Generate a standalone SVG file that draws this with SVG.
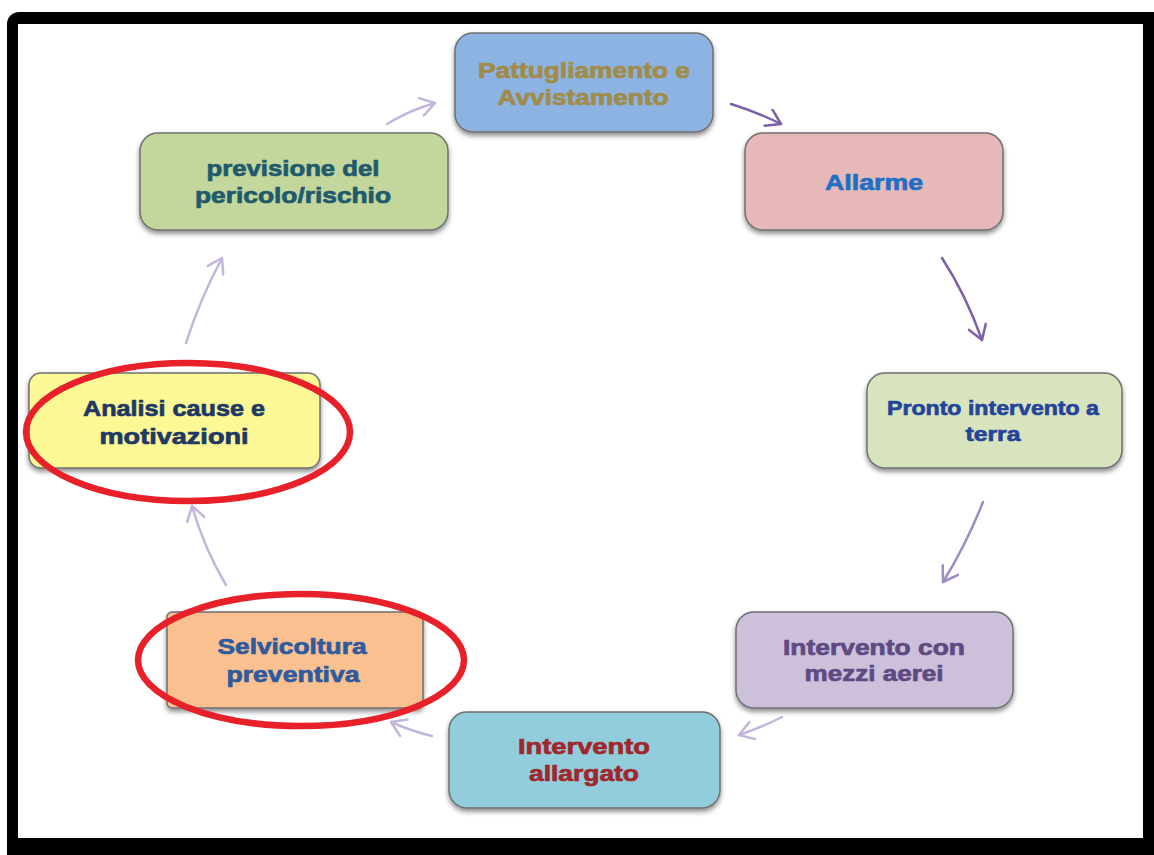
<svg xmlns="http://www.w3.org/2000/svg" width="1154" height="855" viewBox="0 0 1154 855">
<defs>
<style>
.box{stroke:#6f6f6f;stroke-width:1.5;filter:url(#sh)}
.t{font-family:"Liberation Sans","Arial",sans-serif;font-weight:700;font-size:22px;text-anchor:middle;stroke-width:0.7;stroke-linejoin:round}
.s{font-size:21px}
.c{fill:none;stroke-width:2.5;stroke-linecap:round}
.dark{stroke:#7d61a8}
.mid{stroke:#9f8cc2}
.light{stroke:#c2b6da}
.ring{fill:none;stroke:#e8202a;stroke-width:6.5}
</style>
<filter id="sh" x="-10%" y="-10%" width="120%" height="130%">
<feDropShadow dx="0" dy="3" stdDeviation="2.5" flood-color="#000" flood-opacity="0.45"/>
</filter>
<marker id="mD" viewBox="0 0 20 20" refX="18" refY="10" markerWidth="20" markerHeight="20" markerUnits="userSpaceOnUse" orient="auto">
<path d="M4,1 L18,10 L4,19" fill="none" stroke="#7d61a8" stroke-width="2.5" stroke-linecap="round" stroke-linejoin="round"/>
</marker>
<marker id="mM" viewBox="0 0 20 20" refX="18" refY="10" markerWidth="20" markerHeight="20" markerUnits="userSpaceOnUse" orient="auto">
<path d="M4,1 L18,10 L4,19" fill="none" stroke="#9f8cc2" stroke-width="2.5" stroke-linecap="round" stroke-linejoin="round"/>
</marker>
<marker id="mL" viewBox="0 0 20 20" refX="18" refY="10" markerWidth="20" markerHeight="20" markerUnits="userSpaceOnUse" orient="auto">
<path d="M4,1 L18,10 L4,19" fill="none" stroke="#c2b6da" stroke-width="2.5" stroke-linecap="round" stroke-linejoin="round"/>
</marker>
</defs>

<g id="frame">
<rect x="7" y="12" width="1170" height="870" rx="12" fill="#000"/>
<rect x="18" y="24" width="1125" height="814" fill="#fff"/>
</g>

<g id="connectors">
<path class="c light" d="M387,124 Q410,110 435,103" marker-end="url(#mL)"/>
<path class="c dark" d="M731,104 Q757,112 781,124" marker-end="url(#mD)"/>
<path class="c dark" d="M942,258 Q966,295 982,340" marker-end="url(#mD)"/>
<path class="c mid" d="M983,502 Q966,545 943,582" marker-end="url(#mM)"/>
<path class="c light" d="M782,717 Q760,728 739,735" marker-end="url(#mL)"/>
<path class="c light" d="M432,736 Q411,731 391,722" marker-end="url(#mL)"/>
<path class="c light" d="M226,585 Q204,548 192,506" marker-end="url(#mL)"/>
<path class="c light" d="M186,343 Q200,299 222,258" marker-end="url(#mL)"/>
</g>

<g id="n-pattugliamento">
<rect class="box" x="455" y="33" width="258" height="99" rx="18" fill="#8db3e2"/>
<text class="t" fill="#a08c48" stroke="#a08c48" x="584" y="78" textLength="212" lengthAdjust="spacingAndGlyphs">Pattugliamento e</text>
<text class="t" fill="#a08c48" stroke="#a08c48" x="583" y="105" textLength="171" lengthAdjust="spacingAndGlyphs">Avvistamento</text>
</g>

<g id="n-allarme">
<rect class="box" x="745" y="133" width="258" height="97" rx="18" fill="#e6b8b7"/>
<text class="t" fill="#1f6fc5" stroke="#1f6fc5" x="874" y="190" textLength="98" lengthAdjust="spacingAndGlyphs">Allarme</text>
</g>

<g id="n-pronto">
<rect class="box" x="867" y="373" width="255" height="95" rx="18" fill="#d7e4bd"/>
<text class="t s" fill="#24449a" stroke="#24449a" x="993" y="415" textLength="212" lengthAdjust="spacingAndGlyphs">Pronto intervento a</text>
<text class="t s" fill="#24449a" stroke="#24449a" x="993" y="441" textLength="55" lengthAdjust="spacingAndGlyphs">terra</text>
</g>

<g id="n-mezzi">
<rect class="box" x="736" y="612" width="277" height="96" rx="18" fill="#ccc0da"/>
<text class="t" fill="#5f4a82" stroke="#5f4a82" x="874" y="655" textLength="182" lengthAdjust="spacingAndGlyphs">Intervento con</text>
<text class="t" fill="#5f4a82" stroke="#5f4a82" x="874" y="681" textLength="139" lengthAdjust="spacingAndGlyphs">mezzi aerei</text>
</g>

<g id="n-allargato">
<rect class="box" x="449" y="712" width="271" height="96" rx="18" fill="#92cddc"/>
<text class="t" fill="#a0282d" stroke="#a0282d" x="584" y="754" textLength="132" lengthAdjust="spacingAndGlyphs">Intervento</text>
<text class="t" fill="#a0282d" stroke="#a0282d" x="584" y="781" textLength="110" lengthAdjust="spacingAndGlyphs">allargato</text>
</g>

<g id="n-selvicoltura">
<rect class="box" x="167" y="612" width="256" height="96" rx="5" fill="#fac090"/>
<text class="t" fill="#2f5a9e" stroke="#2f5a9e" x="292" y="654" textLength="149" lengthAdjust="spacingAndGlyphs">Selvicoltura</text>
<text class="t" fill="#2f5a9e" stroke="#2f5a9e" x="293" y="682" textLength="133" lengthAdjust="spacingAndGlyphs">preventiva</text>
<ellipse class="ring" cx="301" cy="660" rx="163" ry="66"/>
</g>

<g id="n-analisi">
<rect class="box" x="29" y="373" width="291" height="95" rx="12" fill="#fbf895"/>
<text class="t" fill="#1f3864" stroke="#1f3864" x="174" y="416" textLength="182" lengthAdjust="spacingAndGlyphs">Analisi cause e</text>
<text class="t" fill="#1f3864" stroke="#1f3864" x="174" y="444" textLength="149" lengthAdjust="spacingAndGlyphs">motivazioni</text>
<ellipse class="ring" cx="188" cy="432" rx="162" ry="69"/>
</g>

<g id="n-previsione">
<rect class="box" x="140" y="133" width="308" height="97" rx="18" fill="#c3d69b"/>
<text class="t" fill="#215a6c" stroke="#215a6c" x="293" y="176" textLength="173" lengthAdjust="spacingAndGlyphs">previsione del</text>
<text class="t" fill="#215a6c" stroke="#215a6c" x="293" y="203" textLength="196" lengthAdjust="spacingAndGlyphs">pericolo/rischio</text>
</g>
</svg>
